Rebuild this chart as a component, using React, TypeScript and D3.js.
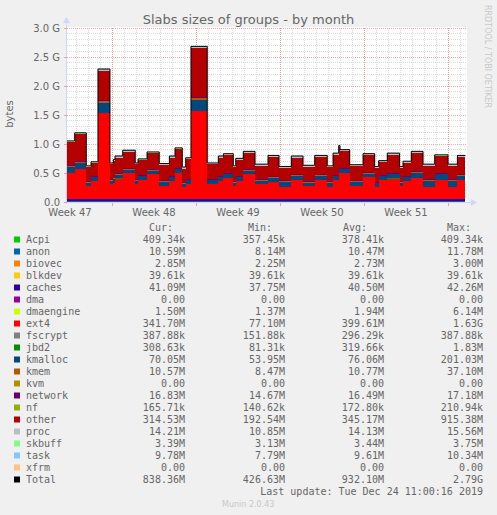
import * as d3 from "d3";

// Munin "slab" month graph, redrawn with d3

const W = 497;
const H = 515;
const PLOT = { left: 67, right: 467, top: 28, bottom: 202 };

const FONT = "#666666";
const AXIS = "#cfd6f8";
const SANS = "DejaVu Sans, Verdana, sans-serif";
const MONO = "DejaVu Sans Mono, monospace";

// time window of the graph (UTC), 400 px of 2 h each
const START = Date.UTC(2019, 10, 21, 6);
const END = Date.UTC(2019, 11, 24, 14);
const DAY = 86400000;
const dataEndDay = 33.2; // last update Tue Dec 24 11:00

// start of each step, in days after START
const segDay = [
  0.0, 0.64, 1.61, 2.0, 2.58, 3.58, 3.86, 4.0, 4.64, 5.69,
  5.92, 6.67, 7.69, 8.53, 9.0, 9.61, 9.89, 10.33, 11.69, 12.61,
  13.03, 13.86, 14.06, 14.69, 15.67, 16.75, 17.67, 18.69, 19.67, 20.64,
  21.69, 22.17, 22.64, 22.75, 23.56, 24.67, 25.64, 25.97, 26.69, 27.72,
  28.0, 28.69, 29.67, 30.64, 31.75, 32.53,
];

// big groups, GiB
const ext4 = [
  0.45, 0.51, 0.22, 0.31, 1.48, 0.25, 0.28, 0.35, 0.44, 0.25,
  0.33, 0.42, 0.22, 0.31, 0.45, 0.2, 0.25, 1.51, 0.25, 0.31,
  0.36, 0.22, 0.31, 0.42, 0.25, 0.29, 0.21, 0.33, 0.22, 0.33,
  0.21, 0.33, 0.45, 0.45, 0.22, 0.37, 0.2, 0.33, 0.35, 0.22,
  0.31, 0.36, 0.21, 0.33, 0.21, 0.33,
];
const kmalloc = [
  0.09, 0.1, 0.06, 0.06, 0.17, 0.06, 0.06, 0.06, 0.06, 0.06,
  0.06, 0.06, 0.07, 0.06, 0.06, 0.06, 0.07, 0.196, 0.07, 0.06,
  0.06, 0.06, 0.06, 0.06, 0.06, 0.07, 0.08, 0.07, 0.06, 0.07,
  0.07, 0.06, 0.06, 0.06, 0.07, 0.06, 0.07, 0.06, 0.07, 0.06,
  0.06, 0.09, 0.1, 0.09, 0.1, 0.07,
];
const kmem = [
  0.03, 0.03, 0.01, 0.01, 0.035, 0.01, 0.01, 0.01, 0.01, 0.01,
  0.01, 0.01, 0.01, 0.01, 0.01, 0.01, 0.01, 0.035, 0.01, 0.01,
  0.01, 0.01, 0.01, 0.01, 0.01, 0.01, 0.01, 0.01, 0.01, 0.01,
  0.01, 0.01, 0.01, 0.01, 0.01, 0.01, 0.01, 0.01, 0.01, 0.01,
  0.01, 0.01, 0.01, 0.01, 0.01, 0.01,
];
const other = [
  0.385, 0.455, 0.235, 0.215, 0.51, 0.255, 0.285, 0.275, 0.285, 0.255,
  0.245, 0.275, 0.265, 0.315, 0.315, 0.235, 0.335, 0.844, 0.245, 0.315,
  0.305, 0.235, 0.275, 0.285, 0.235, 0.335, 0.215, 0.285, 0.245, 0.295,
  0.235, 0.345, 0.355, 0.285, 0.245, 0.295, 0.235, 0.215, 0.315, 0.225,
  0.225, 0.315, 0.235, 0.285, 0.235, 0.295,
];

// small groups that barely move, MiB
const steadyMiB: Record<string, number> = {
  Acpi: 0.37, anon: 10.47, biovec: 2.73, blkdev: 0.04, caches: 40.5, dma: 0,
  dmaengine: 1.94, fscrypt: 0.29, jbd2: 0.31, kvm: 0, network: 16.49, nf: 0.17,
  proc: 14.13, skbuff: 3.44, task: 9.61, xfrm: 0,
};

const names = [
  "Acpi", "anon", "biovec", "blkdev", "caches", "dma", "dmaengine", "ext4",
  "fscrypt", "jbd2", "kmalloc", "kmem", "kvm", "network", "nf", "other",
  "proc", "skbuff", "task", "xfrm",
];
const colors = [
  "#00cc00", "#0066b3", "#ff8000", "#ffcc00", "#330099", "#990099", "#ccff00", "#ff0000",
  "#808080", "#008f00", "#00487d", "#b35a00", "#b38f00", "#6b006b", "#8fb300", "#b30000",
  "#bebebe", "#80ff80", "#80c9ff", "#ffc080",
];

const cur = ["409.34k", "10.59M", "2.85M", "39.61k", "41.09M", "0.00", "1.50M", "341.70M", "387.88k", "308.63k", "70.05M", "10.57M", "0.00", "16.83M", "165.71k", "314.53M", "14.21M", "3.39M", "9.78M", "0.00"];
const min = ["357.45k", "8.14M", "2.25M", "39.61k", "37.75M", "0.00", "1.37M", "77.10M", "151.88k", "81.31k", "53.95M", "8.47M", "0.00", "14.67M", "140.62k", "192.54M", "10.85M", "3.13M", "7.79M", "0.00"];
const avg = ["378.41k", "10.47M", "2.73M", "39.61k", "40.50M", "0.00", "1.94M", "399.61M", "296.29k", "319.66k", "76.06M", "10.77M", "0.00", "16.49M", "172.80k", "345.17M", "14.13M", "3.44M", "9.61M", "0.00"];
const max = ["409.34k", "11.78M", "3.00M", "39.61k", "42.26M", "0.00", "6.14M", "1.63G", "387.88k", "1.83M", "201.03M", "37.10M", "0.00", "17.18M", "210.94k", "915.38M", "15.56M", "3.75M", "10.34M", "0.00"];
const totalStats = ["838.36M", "426.63M", "932.10M", "2.79G"];

const yTicks = [0, 0.5, 1.0, 1.5, 2.0, 2.5, 3.0];

type Row = { t: number } & Record<string, number>;

function buildRows(): Row[] {
  const rows: Row[] = segDay.map((d, i) => {
    const r: Row = { t: START + d * DAY } as Row;
    names.forEach((n) => {
      r[n] = (steadyMiB[n] ?? 0) / 1024;
    });
    r.ext4 = ext4[i];
    r.kmalloc = kmalloc[i];
    r.kmem = kmem[i];
    r.other = other[i];
    return r;
  });
  // close the last step at the last update
  rows.push({ ...rows[rows.length - 1], t: START + dataEndDay * DAY });
  return rows;
}

export default function App() {
  const x = d3.scaleUtc().domain([START, END]).range([PLOT.left, PLOT.right]);
  const y = d3.scaleLinear().domain([0, 3]).range([PLOT.bottom, PLOT.top]);

  const rows = buildRows();
  const series = d3.stack<Row>().keys(names)(rows);

  const area = d3
    .area<d3.SeriesPoint<Row>>()
    .x((d) => x(d.data.t))
    .y0((d) => y(d[0]))
    .y1((d) => y(d[1]))
    .curve(d3.curveStepAfter);

  const totalLine = d3
    .line<Row>()
    .x((d) => x(d.t))
    .y((d) => y(d3.sum(names, (n) => d[n])))
    .curve(d3.curveStepAfter);

  const days = d3.utcDay.range(new Date(START), new Date(END));
  const mondays = d3.utcMonday.range(new Date(START), new Date(END));
  const weekLabels = d3.utcMonday
    .range(new Date(START - 7 * DAY), new Date(END))
    .map((m) => ({ mid: m.getTime() + 3.5 * DAY, label: "Week " + d3.utcFormat("%V")(m) }))
    .filter((w) => w.mid >= START && w.mid <= END);

  const minorY = d3.range(1, 30).map((k) => k / 10).filter((v) => Math.round(v * 10) % 5 !== 0);

  const legendX = { sq: 14, name: 26, cur: 185, min: 285, avg: 384, max: 483 };
  const rowY = (i: number) => 243 + i * 12;

  return (
    <svg
      width={W}
      height={H}
      style={{ position: "absolute", left: 0, top: 0, background: "#f0f0f0" }}
      fontFamily={SANS}
    >
      <rect width={W} height={H} fill="#f0f0f0" />
      <rect
        x={PLOT.left}
        y={PLOT.top - 1}
        width={PLOT.right - PLOT.left}
        height={PLOT.bottom - PLOT.top + 1}
        fill="#ffffff"
      />

      {/* grid */}
      <g shapeRendering="crispEdges" strokeDasharray="1,1">
        {days.map((d) => (
          <line key={"d" + +d} x1={x(d)} x2={x(d)} y1={PLOT.top} y2={PLOT.bottom} stroke="#8c8c8c" strokeOpacity={0.3} />
        ))}
        {minorY.map((v) => (
          <line key={"h" + v} x1={PLOT.left} x2={PLOT.right} y1={y(v)} y2={y(v)} stroke="#8c8c8c" strokeOpacity={0.3} />
        ))}
        {mondays.map((d) => (
          <line key={"m" + +d} x1={x(d)} x2={x(d)} y1={PLOT.top} y2={PLOT.bottom} stroke="#e05050" strokeOpacity={0.45} />
        ))}
        {yTicks.slice(1).map((v) => (
          <line key={"M" + v} x1={PLOT.left} x2={PLOT.right} y1={y(v)} y2={y(v)} stroke="#e05050" strokeOpacity={0.45} />
        ))}
      </g>

      {/* stacked groups */}
      <g shapeRendering="crispEdges">
        {series.map((s, i) => (
          <path key={s.key} d={area(s) ?? ""} fill={colors[i]} />
        ))}
      </g>
      <path d={totalLine(rows) ?? ""} fill="none" stroke="#000" strokeWidth={1} />

      {/* axes */}
      <g shapeRendering="crispEdges" stroke={AXIS}>
        <line x1={PLOT.left - 0.5} x2={PLOT.left - 0.5} y1={PLOT.bottom + 2} y2={PLOT.top - 6} />
        <line x1={PLOT.left - 3} x2={PLOT.right + 4} y1={PLOT.bottom + 0.5} y2={PLOT.bottom + 0.5} />
        {yTicks.map((v) => (
          <line key={"yt" + v} x1={PLOT.left - 3} x2={PLOT.left} y1={y(v)} y2={y(v)} stroke="#e05050" strokeOpacity={0.45} />
        ))}
        {mondays.map((d) => (
          <line key={"xt" + +d} x1={x(d)} x2={x(d)} y1={PLOT.bottom + 1} y2={PLOT.bottom + 4} stroke="#e05050" strokeOpacity={0.45} />
        ))}
      </g>
      <path
        d={`M${PLOT.left - 4},${PLOT.top - 5} L${PLOT.left - 0.5},${PLOT.top - 11} L${PLOT.left + 3},${PLOT.top - 5} Z`}
        fill={AXIS}
      />
      <path
        d={`M${PLOT.right + 4},${PLOT.bottom - 3} L${PLOT.right + 10},${PLOT.bottom + 0.5} L${PLOT.right + 4},${PLOT.bottom + 4} Z`}
        fill={AXIS}
      />

      {/* texts */}
      <text x={248.5} y={24} textAnchor="middle" fontSize={13} fill={FONT}>
        Slabs sizes of groups - by month
      </text>
      <text transform="translate(13,114) rotate(-90)" textAnchor="middle" fontSize={10} fill={FONT}>
        bytes
      </text>
      <text transform="translate(485,5) rotate(90)" fontSize={8} fill="#c8c8c8">
        RRDTOOL / TOBI OETIKER
      </text>
      {yTicks.map((v) => (
        <text key={"yl" + v} x={60} y={y(v) + 3.5} textAnchor="end" fontSize={10} fill={FONT}>
          {v === 0 ? "0.0" : `${v.toFixed(1)} G`}
        </text>
      ))}
      {weekLabels.map((w) => (
        <text key={w.label} x={x(w.mid)} y={215.5} textAnchor="middle" fontSize={10} fill={FONT}>
          {w.label}
        </text>
      ))}

      {/* legend */}
      <g fontFamily={MONO} fontSize={10} fill={FONT}>
        <text x={149} y={231}>Cur:</text>
        <text x={248} y={231}>Min:</text>
        <text x={343} y={231}>Avg:</text>
        <text x={447} y={231}>Max:</text>
        {names.map((n, i) => (
          <g key={n}>
            <rect x={legendX.sq} y={rowY(i) - 6.5} width={6} height={6} fill={colors[i]} />
            <text x={legendX.name} y={rowY(i)}>{n}</text>
            <text x={legendX.cur} y={rowY(i)} textAnchor="end">{cur[i]}</text>
            <text x={legendX.min} y={rowY(i)} textAnchor="end">{min[i]}</text>
            <text x={legendX.avg} y={rowY(i)} textAnchor="end">{avg[i]}</text>
            <text x={legendX.max} y={rowY(i)} textAnchor="end">{max[i]}</text>
          </g>
        ))}
        <rect x={legendX.sq} y={rowY(20) - 6.5} width={6} height={6} fill="#000" />
        <text x={legendX.name} y={rowY(20)}>Total</text>
        <text x={legendX.cur} y={rowY(20)} textAnchor="end">{totalStats[0]}</text>
        <text x={legendX.min} y={rowY(20)} textAnchor="end">{totalStats[1]}</text>
        <text x={legendX.avg} y={rowY(20)} textAnchor="end">{totalStats[2]}</text>
        <text x={legendX.max} y={rowY(20)} textAnchor="end">{totalStats[3]}</text>
        <text x={legendX.max} y={rowY(21)} textAnchor="end">Last update: Tue Dec 24 11:00:16 2019</text>
      </g>
      <text x={222} y={507} fontSize={8} fill="#c8c8c8">
        Munin 2.0.43
      </text>
    </svg>
  );
}
